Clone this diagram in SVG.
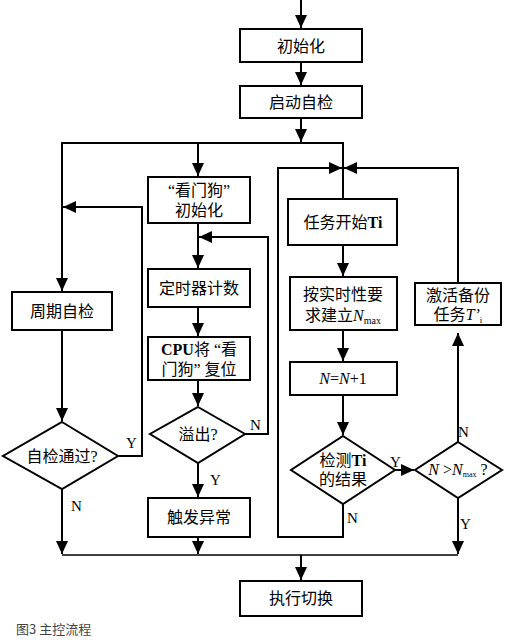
<svg xmlns="http://www.w3.org/2000/svg" width="514" height="643" viewBox="0 0 514 643">
<style>
.box{fill:#fff;stroke:#000;stroke-width:2}
.ln{fill:none;stroke:#000;stroke-width:2}
.t{font-family:"Liberation Serif","Noto Sans CJK SC",serif;font-size:16px;fill:#000;text-anchor:middle}
.lb{font-family:"Liberation Serif",serif;font-size:15px;fill:#000}
.cap{font-family:"Noto Sans CJK SC","Liberation Sans",sans-serif;font-size:13px;fill:#444}
.b{font-weight:bold}
</style>
<defs>
<marker id="ah" markerUnits="userSpaceOnUse" markerWidth="13" markerHeight="12" refX="13" refY="6" orient="auto">
<path d="M0,0 L13,6 L0,12 Z" fill="#000"/>
</marker>
</defs>
<rect width="514" height="643" fill="#fff"/>
<g id="connectors">
<line class="ln" x1="301" y1="0" x2="301" y2="28" marker-end="url(#ah)"/>
<line class="ln" x1="301" y1="62" x2="301" y2="85" marker-end="url(#ah)"/>
<line class="ln" x1="301" y1="118" x2="301" y2="142" marker-end="url(#ah)"/>
<polyline class="ln" points="62,292 62,143 343,143 343,199"/>
<line class="ln" x1="62" y1="270" x2="62" y2="291" marker-end="url(#ah)"/>
<line class="ln" x1="198" y1="143" x2="198" y2="176" marker-end="url(#ah)"/>
<polyline class="ln" points="118,456 142,456 142,207 63,207" marker-end="url(#ah)"/>
<line class="ln" x1="62" y1="330" x2="62" y2="421" marker-end="url(#ah)"/>
<line class="ln" x1="62" y1="489" x2="62" y2="554" marker-end="url(#ah)"/>
<line class="ln" x1="198" y1="223" x2="198" y2="268" marker-end="url(#ah)"/>
<polyline class="ln" points="245,434 268,434 268,237 199,237" marker-end="url(#ah)"/>
<line class="ln" x1="198" y1="307" x2="198" y2="336" marker-end="url(#ah)"/>
<line class="ln" x1="198" y1="380" x2="198" y2="406" marker-end="url(#ah)"/>
<line class="ln" x1="198" y1="463" x2="198" y2="497" marker-end="url(#ah)"/>
<line class="ln" x1="198" y1="537" x2="198" y2="554" marker-end="url(#ah)"/>
<line x1="62" y1="555" x2="458" y2="555" stroke="#000" stroke-width="1.5"/>
<line class="ln" x1="301" y1="555" x2="301" y2="580" marker-end="url(#ah)"/>
<line class="ln" x1="343" y1="245" x2="343" y2="276" marker-end="url(#ah)"/>
<line class="ln" x1="343" y1="330" x2="343" y2="361" marker-end="url(#ah)"/>
<line class="ln" x1="343" y1="395" x2="343" y2="435" marker-end="url(#ah)"/>
<polyline class="ln" points="343,504 343,537 278,537 278,168 342,168" marker-end="url(#ah)"/>
<line class="ln" x1="395" y1="470" x2="414" y2="470" marker-end="url(#ah)"/>
<line class="ln" x1="458" y1="442" x2="458" y2="333" marker-end="url(#ah)"/>
<polyline class="ln" points="458,283 458,168 344,168" marker-end="url(#ah)"/>
<line class="ln" x1="458" y1="498" x2="458" y2="554" marker-end="url(#ah)"/>
<text class="lb" x="126" y="448">Y</text>
<text class="lb" x="71" y="511">N</text>
<text class="lb" x="250" y="430">N</text>
<text class="lb" x="210" y="485">Y</text>
<text class="lb" x="390" y="467">Y</text>
<text class="lb" x="347" y="523">N</text>
<text class="lb" x="458" y="437">N</text>
<text class="lb" x="460" y="529">Y</text>
</g>
<g id="init"><rect class="box" x="240" y="29" width="122" height="33"/><text class="t" x="301" y="52">初始化</text></g>
<g id="selfcheck"><rect class="box" x="240" y="86" width="122" height="32"/><text class="t" x="301" y="108">启动自检</text></g>
<g id="wdinit"><rect class="box" x="148" y="177" width="102" height="46"/><text class="t" x="199" y="196">“看门狗”</text><text class="t" x="199" y="216">初始化</text></g>
<g id="periodic"><rect class="box" x="12" y="292" width="100" height="38"/><text class="t" x="62" y="317">周期自检</text></g>
<g id="pass"><polygon class="box" points="62,422 118,456 62,489 3,456"/><text class="t" x="62" y="462">自检通过?</text></g>
<g id="timer"><rect class="box" x="148" y="269" width="102" height="38" stroke-width="2.5"/><text class="t" x="199" y="294">定时器计数</text></g>
<g id="cpu"><rect class="box" x="148" y="337" width="102" height="43" stroke-width="2.5"/><text class="t" x="199" y="355"><tspan class="b">CPU</tspan>将 “看</text><text class="t" x="199" y="375">门狗” 复位</text></g>
<g id="overflow"><polygon class="box" points="198,407 245,434 198,463 150,434"/><text class="t" x="198" y="440">溢出?</text></g>
<g id="exception"><rect class="box" x="148" y="498" width="102" height="39" stroke-width="2.5"/><text class="t" x="199" y="523">触发异常</text></g>
<g id="switch"><rect class="box" x="240" y="581" width="122" height="35"/><text class="t" x="301" y="604">执行切换</text></g>
<g id="taskstart"><rect class="box" x="288" y="199" width="109" height="46"/><text class="t" x="343" y="228">任务开始<tspan class="b">Ti</tspan></text></g>
<g id="nmax"><rect class="box" x="290" y="277" width="107" height="53"/><text class="t" x="343" y="300">按实时性要</text><text class="t" x="343" y="321">求建立<tspan font-style="italic">N</tspan><tspan font-size="10" dy="3">max</tspan></text></g>
<g id="inc"><rect class="box" x="290" y="362" width="107" height="33"/><text class="t" x="343" y="384"><tspan font-style="italic">N</tspan>=<tspan font-style="italic">N</tspan>+1</text></g>
<g id="detect"><polygon class="box" points="343,436 395,470 343,504 291,470"/><text class="t" x="343" y="466">检测<tspan class="b">Ti</tspan></text><text class="t" x="343" y="485">的结果</text></g>
<g id="compare"><polygon class="box" points="458,442 502,470 458,498 415,470"/><text class="t" x="458" y="475" font-size="14"><tspan font-style="italic">N</tspan> &gt;<tspan font-style="italic">N</tspan><tspan font-size="8" dy="2">max</tspan><tspan dy="-2"> ?</tspan></text></g>
<g id="backup"><rect class="box" x="415" y="283" width="86" height="42"/><text class="t" x="458" y="301">激活备份</text><text class="t" x="458" y="320">任务<tspan font-style="italic">T’</tspan><tspan font-size="9" dy="3">i</tspan></text></g>
<text class="cap" x="16" y="634">图3 主控流程</text>
</svg>
